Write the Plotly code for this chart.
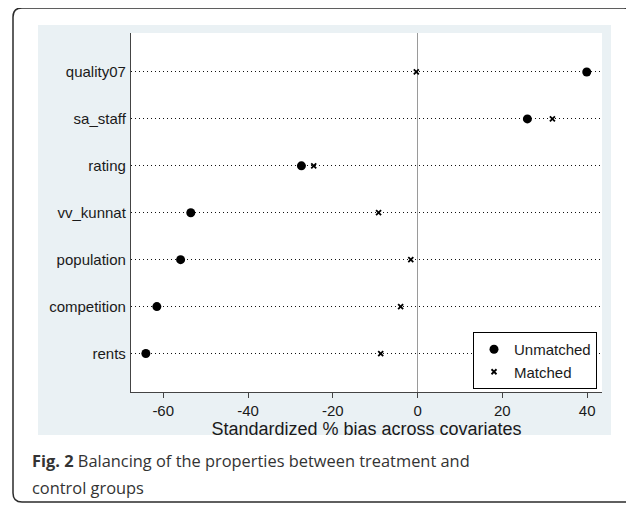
import plotly.graph_objects as go

# ---- data ----
covariates = ["quality07", "sa_staff", "rating", "vv_kunnat", "population", "competition", "rents"]
unmatched = [39.9, 25.9, -27.4, -53.5, -55.9, -61.5, -64.1]
matched = [-0.3, 31.8, -24.5, -9.2, -1.6, -4.0, -8.7]
x_ticks = [-60, -40, -20, 0, 20, 40]
x_tick_labels = ["-60", "-40", "-20", "0", "20", "40"]
x_title = "Standardized % bias across covariates"
caption_bold = "Fig. 2"
caption_line1 = " Balancing of the properties between treatment and"
caption_line2 = "control groups"

# the page body adds an 8px margin, so lay out in page coordinates minus 8
OFF = 8
W, H = 634 - OFF, 506 - OFF
L, T = 131 - OFF, 33 - OFF
R = W - (602 - OFF)
B = H - (392 - OFF)
PW, PH = W - L - R, H - T - B


def px(x):
    return (x - OFF - L) / PW


def py(y):
    return (H - B - (y - OFF)) / PH


fig = go.Figure()
fig.add_trace(go.Scatter(
    x=unmatched, y=covariates, mode="markers", name="Unmatched",
    marker=dict(symbol="circle", size=9, color="black"),
))
fig.add_trace(go.Scatter(
    x=matched, y=covariates, mode="markers", name="Matched",
    marker=dict(symbol="x-thin", size=5, color="black",
                line=dict(width=1.8, color="black")),
))

font = "Liberation Sans, Arial, sans-serif"

# outer rounded border
x0, x1, y0, y1 = px(13), px(633), py(8), py(502)
rx, ry = 9 / PW, 9 / PH
path = (f"M {x0+rx},{y0} L {x1-rx},{y0} Q {x1},{y0} {x1},{y0-ry} "
        f"L {x1},{y1+ry} Q {x1},{y1} {x1-rx},{y1} "
        f"L {x0+rx},{y1} Q {x0},{y1} {x0},{y1+ry} "
        f"L {x0},{y0-ry} Q {x0},{y0} {x0+rx},{y0} Z")

shapes = [
    dict(type="path", xref="paper", yref="paper", path=path,
         line=dict(color="#2b2b2b", width=1.5), fillcolor="rgba(0,0,0,0)", layer="below"),
    dict(type="rect", xref="paper", yref="paper", x0=px(38), x1=px(611), y0=py(435), y1=py(25),
         fillcolor="#eaf1f4", line=dict(width=0), layer="below"),
    dict(type="rect", xref="paper", yref="paper", x0=0, x1=1, y0=0, y1=1,
         fillcolor="white", line=dict(width=0), layer="below"),
]

cap_font = dict(family="Open Sans, sans-serif", size=16.4, color="#333333")
annotations = [
    dict(xref="paper", yref="paper", x=px(30), y=py(460), xanchor="left", yanchor="middle",
         text=f"<b>{caption_bold}</b>{caption_line1}", showarrow=False, font=cap_font),
    dict(xref="paper", yref="paper", x=px(30), y=py(487), xanchor="left", yanchor="middle",
         text=caption_line2, showarrow=False, font=cap_font),
]

fig.update_layout(
    width=W, height=H,
    margin=dict(l=L, r=R, t=T, b=B, pad=0),
    paper_bgcolor="white", plot_bgcolor="rgba(0,0,0,0)",
    shapes=shapes, annotations=annotations,
    font=dict(family=font, size=15, color="#1a1a1a"),
    showlegend=True,
    legend=dict(x=px(597), y=py(389), xanchor="right", yanchor="bottom",
                bgcolor="white", bordercolor="black", borderwidth=1,
                font=dict(family=font, size=15, color="#1a1a1a"),
                itemwidth=30, tracegroupgap=0),
    xaxis=dict(range=[-67.6, 43.5], tickvals=x_ticks, ticktext=x_tick_labels,
               ticks="outside", ticklen=5,
               tickcolor="#444444", tickwidth=1.2, showline=True, linecolor="#444444",
               linewidth=1.3, showgrid=False, zeroline=True, zerolinecolor="#9a9a9a",
               zerolinewidth=1.3, title=dict(text=x_title, standoff=0), automargin=True,
               tickfont=dict(size=15)),
    yaxis=dict(type="category", categoryorder="array", categoryarray=covariates[::-1],
               range=[-0.82, 6.83], showline=True, linecolor="#444444", linewidth=1.3,
               ticks="", showgrid=True, gridcolor="#111111", gridwidth=1.2,
               griddash="1.2px,2.8px", zeroline=False, tickfont=dict(size=15),
               ticklabelstandoff=1, automargin=False),
)

fig.write_html("out.html")
